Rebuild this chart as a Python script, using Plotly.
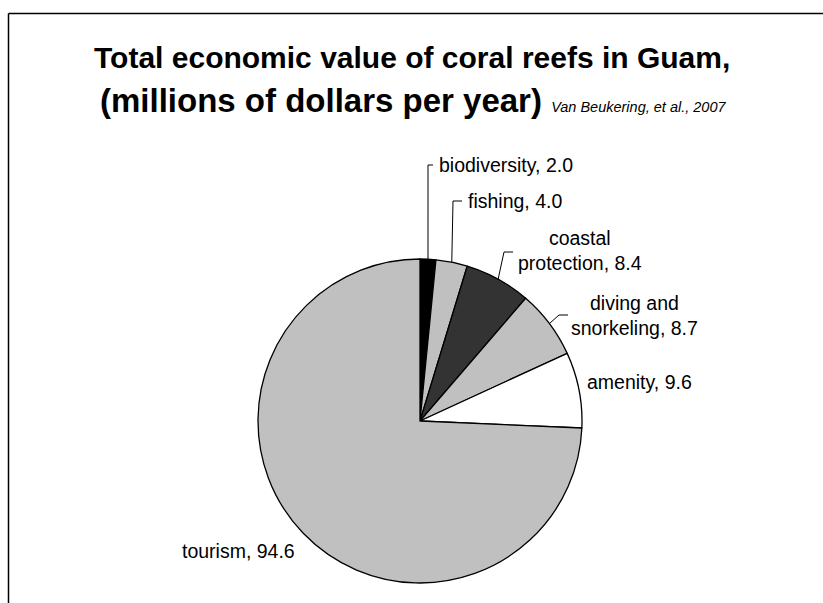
import math
import plotly.graph_objects as go

# ---- data ----
categories = ["biodiversity", "fishing", "coastal protection", "diving and snorkeling", "amenity", "tourism"]
values = [2.0, 4.0, 8.4, 8.7, 9.6, 94.6]
label_texts = ["biodiversity, 2.0", "fishing, 4.0", "coastal<br>protection, 8.4",
               "diving and<br>snorkeling, 8.7", "amenity, 9.6", "tourism, 94.6"]

# ---- styles / layout ----
W, H = 823, 603
colors = ["#000000", "#C0C0C0", "#333333", "#C0C0C0", "#FFFFFF", "#C0C0C0"]
CX, CY, R = 420, 421, 162          # pie centre and radius in pixels
FONT = "Arial, 'Liberation Sans', sans-serif"
LABEL_SIZE = 19.5

# label placement: (text x, text y, xanchor, elbow point or None)
label_layout = [
    (437, 165, "left", (428, 165)),
    (466, 201, "left", (453, 201)),
    (580, 250, "center", (504, 252)),
    (634, 315, "center", (559, 315)),
    (585, 382, "left", None),
    (297, 551, "right", None),
]


def px(x, y):
    return x / W, 1 - y / H


fig = go.Figure(go.Pie(
    labels=categories, values=values, sort=False, direction="clockwise", rotation=0,
    marker=dict(colors=colors, line=dict(color="#000000", width=1.3)),
    textinfo="none", hoverinfo="label+value", showlegend=False,
    domain=dict(x=[(CX - R) / W, (CX + R) / W], y=[1 - (CY + R) / H, 1 - (CY - R) / H]),
))

annotations = []
shapes = []
total = sum(values)
cum = 0.0
for i, v in enumerate(values):
    mid = (cum + v / 2) / total * 2 * math.pi
    cum += v
    tx, ty, anchor, elbow = label_layout[i]
    ax, ay = px(tx, ty)
    annotations.append(dict(x=ax, y=ay, xref="paper", yref="paper", text=label_texts[i],
                            showarrow=False, xanchor=anchor, yanchor="middle", align="center",
                            font=dict(family=FONT, size=LABEL_SIZE, color="#000000")))
    if elbow is not None:
        ex0 = CX + R * math.sin(mid)
        ey0 = CY - R * math.cos(mid)
        ex1, ey1 = elbow
        ex2 = tx - 4 if anchor == "left" else ex1 + 9
        p0, p1, p2 = px(ex0, ey0), px(ex1, ey1), px(ex2, ey1)
        for a, b in ((p0, p1), (p1, p2)):
            shapes.append(dict(type="line", xref="paper", yref="paper",
                               x0=a[0], y0=a[1], x1=b[0], y1=b[1],
                               line=dict(color="#000000", width=1)))

# title
annotations.append(dict(x=412 / W, y=1 - 57 / H, xref="paper", yref="paper", showarrow=False,
                        xanchor="center", yanchor="middle",
                        text="<b>Total economic value of coral reefs in Guam,</b>",
                        font=dict(family=FONT, size=30, color="#000000")))
annotations.append(dict(x=413 / W, y=1 - 100 / H, xref="paper", yref="paper", showarrow=False,
                        xanchor="center", yanchor="middle",
                        text="<b>(millions of dollars per year)</b> "
                             "<i><span style='font-size:14.5px'>Van Beukering, et al., 2007</span></i>",
                        font=dict(family=FONT, size=33, color="#000000")))

# chart frame (top and left edges visible)
shapes.append(dict(type="line", xref="paper", yref="paper", x0=8.5 / W, y0=1 - 13.5 / H,
                   x1=1.01, y1=1 - 13.5 / H, line=dict(color="#000000", width=1.5)))
shapes.append(dict(type="line", xref="paper", yref="paper", x0=8.5 / W, y0=1 - 13.5 / H,
                   x1=8.5 / W, y1=-0.01, line=dict(color="#000000", width=1.5)))

fig.update_layout(width=W, height=H, margin=dict(l=0, r=0, t=0, b=0),
                  paper_bgcolor="#FFFFFF", plot_bgcolor="#FFFFFF",
                  annotations=annotations, shapes=shapes,
                  font=dict(family=FONT, color="#000000"))

fig.write_html("out.html")
